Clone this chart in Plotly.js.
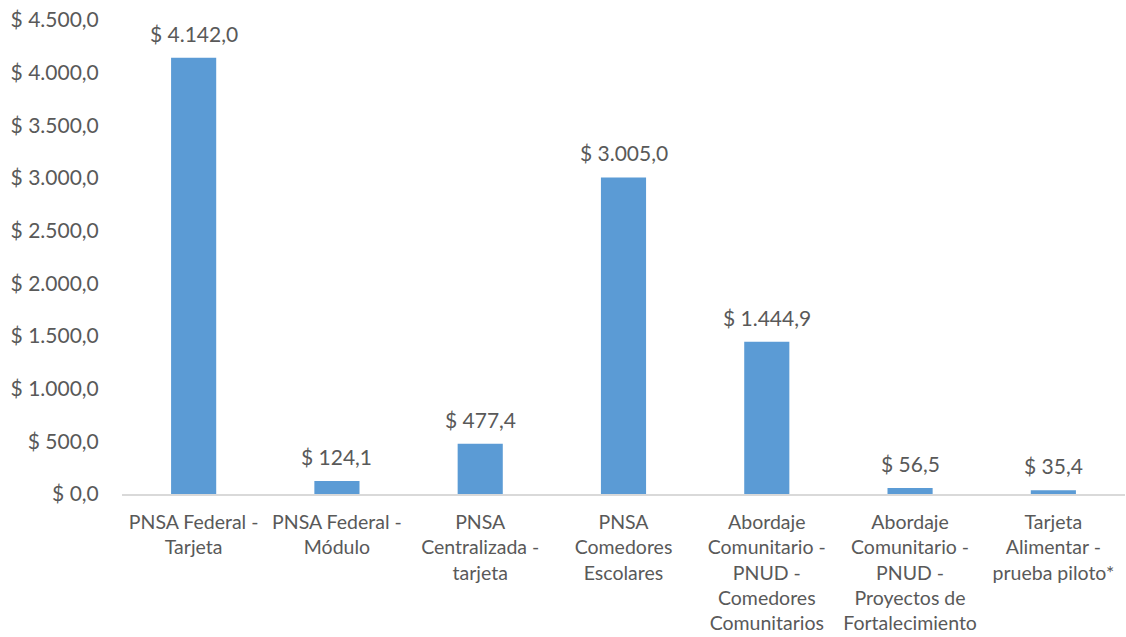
<!DOCTYPE html>
<html>
<head>
<meta charset="utf-8">
<script src="https://cdn.plot.ly/plotly-3.0.1.min.js"></script>
<style>html,body{margin:0;padding:0;background:#fff;}#chart{width:1126px;height:637px;}</style>
</head>
<body>
<div id="chart"></div>
<script>
const categories = [
  "PNSA Federal -<br>Tarjeta",
  "PNSA Federal -<br>Módulo",
  "PNSA<br>Centralizada -<br>tarjeta",
  "PNSA<br>Comedores<br>Escolares",
  "Abordaje<br>Comunitario -<br>PNUD -<br>Comedores<br>Comunitarios",
  "Abordaje<br>Comunitario -<br>PNUD -<br>Proyectos de<br>Fortalecimiento",
  "Tarjeta<br>Alimentar -<br>prueba piloto*"
];
const values = [4142.0, 124.1, 477.4, 3005.0, 1444.9, 56.5, 35.4];
const yTicks = [0, 500, 1000, 1500, 2000, 2500, 3000, 3500, 4000, 4500];

function fmt(v) {
  const parts = v.toFixed(1).split('.');
  const intPart = parts[0].replace(/\B(?=(\d{3})+(?!\d))/g, '.');
  return '$ ' + intPart + ',' + parts[1];
}

const textColor = '#595959';
const fontFam = 'Lato, "Open Sans", sans-serif';

const trace = {
  type: 'bar',
  x: categories,
  y: values,
  marker: {color: '#5B9BD5'},
  width: 0.315,
  hoverinfo: 'none'
};

const annotations = values.map((v, i) => ({
  x: categories[i], y: v, xref: 'x', yref: 'y',
  text: fmt(v), showarrow: false, yanchor: 'bottom', yshift: 10,
  font: {family: fontFam, size: 21, color: textColor}
}));

const layout = {
  width: 1126, height: 637,
  margin: {l: 122, r: 1, t: 20, b: 143},
  paper_bgcolor: '#ffffff', plot_bgcolor: '#ffffff',
  showlegend: false,
  font: {family: fontFam, color: textColor},
  xaxis: {
    type: 'category',
    tickfont: {family: fontFam, size: 19.5, color: textColor},
    showline: true, linecolor: '#D9D9D9', linewidth: 1.5,
    ticks: 'outside', ticklen: 0, ticklabelstandoff: 10,
    showgrid: false, zeroline: false, fixedrange: true
  },
  yaxis: {
    range: [0, 4500],
    tickvals: yTicks,
    ticktext: yTicks.map(fmt),
    tickfont: {family: fontFam, size: 21, color: textColor},
    showgrid: false, zeroline: false, showline: false,
    ticks: 'outside', ticklen: 0, ticklabelstandoff: 18,
    fixedrange: true
  },
  annotations: annotations
};

Plotly.newPlot('chart', [trace], layout, {displayModeBar: false, staticPlot: true});
</script>
</body>
</html>
